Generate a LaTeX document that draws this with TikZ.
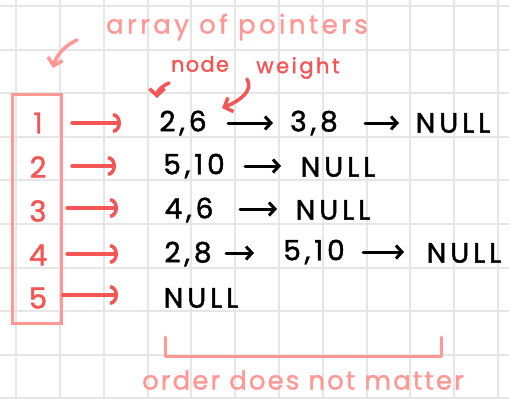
\documentclass[tikz,border=0pt]{standalone}
\usepackage{fontspec}
\setmainfont{Poppins}
\usetikzlibrary{arrows.meta}
\definecolor{gridc}{HTML}{E6E6E6}
\definecolor{pinkc}{HTML}{FF9895}
\definecolor{redc}{HTML}{F45656}
\begin{document}
\begin{tikzpicture}[x=1pt,y=-1pt,
  blk/.style={text=black,font=\fontsize{28}{30}\selectfont\addfontfeature{FakeBold=1.5,LetterSpace=14},inner sep=0pt,anchor=center},
  num/.style={text=redc,font=\fontsize{29}{30}\selectfont\addfontfeature{FakeBold=1.5},inner sep=0pt},
  note/.style={text=pinkc,font=\fontsize{26}{28}\selectfont\addfontfeature{FakeBold=1.2,LetterSpace=13},inner sep=0pt},
  rnote/.style={text=redc,font=\fontsize{21}{24}\selectfont\addfontfeature{FakeBold=1.5,LetterSpace=6},inner sep=0pt},
  redarrow/.style={draw=redc,line width=3.5pt,line cap=round,-{Arc Barb[length=8pt,width=20pt,line width=3.5pt]}},
  blkarrow/.style={draw=black,line width=3pt,line cap=round,-{Straight Barb[length=6pt,width=13pt,line width=3pt]}},
  annarrow/.style={line width=3.5pt,line cap=round,-{Straight Barb[length=7pt,width=15pt,line width=3.5pt]}},
]
\useasboundingbox (0,0) rectangle (509,399);
\fill[white] (0,0) rectangle (509,399);
% grid
\foreach \i in {0,...,11} \draw[gridc,line width=2pt] (16.2+43.8*\i,0) -- (16.2+43.8*\i,399);
\foreach \j in {0,...,9} \draw[gridc,line width=2pt] (0,6+43.6*\j) -- (509,6+43.6*\j);

% array box
\node[draw=pinkc,line width=3pt,minimum width=49pt,minimum height=229pt,inner sep=0pt] (arr) at (36.5,208.5) {};
\node[num] (n1) at (38,123) {1};
\node[num] (n2) at (38,167) {2};
\node[num] (n3) at (38,211) {3};
\node[num] (n4) at (38,255) {4};
\node[num] (n5) at (38,298) {5};

% list elements
\node[blk] (e11) at (183,123) {2,6};
\node[blk] (e12) at (314,123) {3,8};
\node[blk] (e13) at (453,123) {NULL};
\node[blk] (e21) at (194,166) {5,10};
\node[blk] (e22) at (338,167) {NULL};
\node[blk] (e31) at (189,210) {4,6};
\node[blk] (e32) at (333,210) {NULL};
\node[blk] (e41) at (188,254) {2,8};
\node[blk] (e42) at (314,252) {5,10};
\node[blk] (e43) at (464,253) {NULL};
\node[blk] (e51) at (201,298) {NULL};

% red pointer arrows
\coordinate (p1) at (72,123);
\coordinate (p2) at (72,166);
\coordinate (p3) at (67,208);
\coordinate (p4) at (67,254);
\coordinate (p5) at (63,295);
\coordinate (q1) at (121,123);
\coordinate (q2) at (116,166);
\coordinate (q3) at (118,208);
\coordinate (q4) at (118,254);
\coordinate (q5) at (118,295);
\foreach \k in {1,...,5} \draw[redarrow] (p\k) -- (q\k);

% black arrows
\coordinate (s1a) at (228,123); \coordinate (t1a) at (273,123);
\coordinate (s1b) at (365,123); \coordinate (t1b) at (399,123);
\coordinate (s2) at (245,166);  \coordinate (t2) at (281,166);
\coordinate (s3) at (240,209);  \coordinate (t3) at (277,209);
\coordinate (s4a) at (226,253); \coordinate (t4a) at (254,253);
\coordinate (s4b) at (363,252); \coordinate (t4b) at (404,252);
\draw[blkarrow] (s1a) -- (t1a);
\draw[blkarrow] (s1b) -- (t1b);
\draw[blkarrow] (s2) -- (t2);
\draw[blkarrow] (s3) -- (t3);
\draw[blkarrow] (s4a) -- (t4a);
\draw[blkarrow] (s4b) -- (t4b);

% annotations
\node[note] (aop) at (237,27) {array of pointers};
\node[rnote] (nd) at (200,64) {node};
\node[rnote,font=\fontsize{21}{24}\selectfont\addfontfeature{FakeBold=1.5,LetterSpace=12}] (wt) at (298,68) {weight};
\node[note,font=\fontsize{26}{28}\selectfont\addfontfeature{FakeBold=1.2,LetterSpace=8}] (odn) at (303,380) {order does not matter};

\coordinate (a1) at (77,40);
\coordinate (a2) at (53,68);
\draw[annarrow,draw=pinkc] (a1) .. controls (64,46) and (56,56) .. (a2);
\coordinate (b1) at (169,83);
\coordinate (b2) at (157,98);
\draw[annarrow,draw=redc] (b1) .. controls (162,86) and (157,91) .. (b2);
\coordinate (c1) at (247,79);
\coordinate (c2) at (222,108);
\draw[annarrow,draw=redc] (c1) .. controls (254,90) and (240,101) .. (c2);

% bracket
\coordinate (br1) at (165,337);
\coordinate (br2) at (441,337);
\draw[pinkc,line width=3pt,line cap=round,line join=round] (br1) -- (165,356) -- (441,356) -- (br2);
\end{tikzpicture}
\end{document}
